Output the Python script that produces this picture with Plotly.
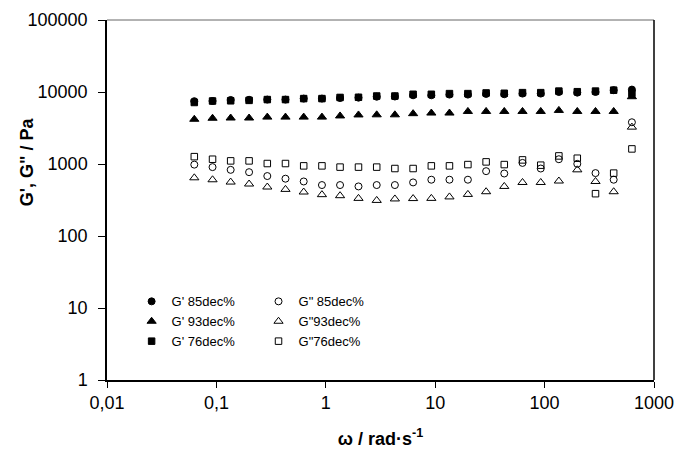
import plotly.graph_objects as go

omega = [0.0628, 0.0922, 0.135, 0.199, 0.292, 0.428, 0.628, 0.922, 1.35, 1.99,
         2.92, 4.28, 6.28, 9.22, 13.5, 19.9, 29.2, 42.8, 62.8, 92.2,
         135, 199, 292, 428, 628]

g1_85 = [7450, 7500, 7750, 7800, 7850, 7850, 8100, 8100, 8250, 8350,
         8600, 8650, 9000, 9000, 9200, 9200, 9400, 9300, 9500, 9500,
         10000, 9800, 10000, 10600, 10800]
g2_85 = [980, 905, 830, 770, 680, 625, 572, 510, 510, 488,
         510, 510, 555, 605, 605, 605, 795, 738, 1035, 865,
         1165, 1005, 748, 605, 3800]
g1_93 = [4180, 4320, 4350, 4350, 4480, 4480, 4480, 4480, 4650, 4800,
         4820, 4820, 5000, 5100, 5100, 5370, 5370, 5370, 5370, 5370,
         5550, 5370, 5370, 5370, 8600]
g2_93 = [643, 604, 561, 527, 479, 444, 408, 375, 363, 333,
         312, 327, 331, 333, 349, 378, 412, 488, 554, 554,
         580, 830, 572, 412, 3250]
g1_76 = [7150, 7500, 7550, 7650, 7850, 7850, 8100, 8100, 8400, 8450,
         8800, 8800, 9300, 9300, 9500, 9500, 9700, 9600, 9800, 9800,
         10300, 10100, 10300, 10600, 9600]
g2_76 = [1265, 1165, 1105, 1105, 1015, 1015, 942, 942, 905, 905,
         905, 865, 865, 942, 942, 982, 1070, 982, 1140, 963,
         1295, 1203, 387, 747, 1620]

x_tickvals = [0.01, 0.1, 1, 10, 100, 1000]
x_ticktext = ["0,01", "0,1", "1", "10", "100", "1000"]
y_tickvals = [1, 10, 100, 1000, 10000, 100000]
y_ticktext = ["1", "10", "100", "1000", "10000", "100000"]

series = [
    ("G' 85dec%", g1_85, "circle", 7, "legend"),
    ("G\" 85dec%", g2_85, "circle-open", 7, "legend2"),
    ("G' 93dec%", g1_93, "triangle-up", 8, "legend"),
    ("G\"93dec%", g2_93, "triangle-up-open", 8, "legend2"),
    ("G' 76dec%", g1_76, "square", 6.5, "legend"),
    ("G\"76dec%", g2_76, "square-open", 6.5, "legend2"),
]

fig = go.Figure()
for name, vals, sym, size, leg in series:
    fig.add_trace(go.Scatter(
        x=omega, y=vals, mode="markers", name=name, legend=leg,
        marker=dict(symbol=sym, size=size, color="black",
                    line=dict(color="black", width=1)),
    ))

font = "Liberation Sans, Arial, sans-serif"
legend_common = dict(
    bgcolor="rgba(0,0,0,0)", borderwidth=0, xanchor="left", yanchor="top",
    font=dict(family=font, size=13, color="black"), itemwidth=30,
    tracegroupgap=0,
)

fig.update_layout(
    width=678, height=453,
    margin=dict(l=107, r=24, t=20, b=73, autoexpand=False),
    plot_bgcolor="white", paper_bgcolor="white",
    font=dict(family=font, size=18, color="black"),
    showlegend=True,
    legend=dict(x=0.045, y=0.26, **legend_common),
    legend2=dict(x=0.277, y=0.26, **legend_common),
    xaxis=dict(
        type="log", range=[-2, 3], tickvals=x_tickvals, ticktext=x_ticktext,
        showline=True, linecolor="black", linewidth=1.5, ticks="outside",
        ticklen=6, tickcolor="black", showgrid=False, zeroline=False,
        automargin=False,
        tickfont=dict(family=font, size=18),
        title=dict(text="<b>ω / rad·s<sup>-1</sup></b>", standoff=20,
                   font=dict(family=font, size=18)),
    ),
    yaxis=dict(
        type="log", range=[0, 5], tickvals=y_tickvals, ticktext=y_ticktext,
        showline=True, linecolor="black", linewidth=1.5, ticks="outside",
        ticklen=7, tickcolor="black", showgrid=False, zeroline=False,
        automargin=False,
        tickfont=dict(family=font, size=18), ticklabelstandoff=7,
    ),
    annotations=[
        dict(text="<b>G', G\" / Pa</b>", xref="paper", yref="paper",
             x=-0.146, y=0.605, xanchor="center", yanchor="middle",
             textangle=-90, showarrow=False,
             font=dict(family=font, size=18, color="black")),
    ],
    shapes=[
        dict(type="line", xref="paper", yref="paper", x0=0, x1=1, y0=1, y1=1,
             line=dict(color="#666666", width=1)),
        dict(type="line", xref="paper", yref="paper", x0=1, x1=1, y0=0, y1=1,
             line=dict(color="black", width=1.5)),
    ],
)

fig.write_html("out.html")
